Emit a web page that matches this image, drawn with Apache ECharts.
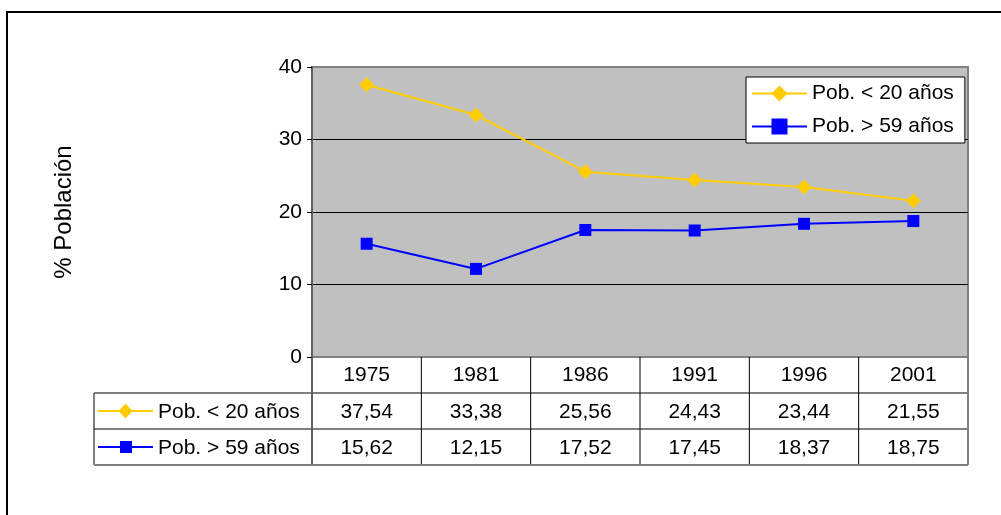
<!DOCTYPE html>
<html>
<head>
<meta charset="utf-8">
<script src="https://cdn.jsdelivr.net/npm/echarts@6/dist/echarts.min.js"></script>
<style>
  html, body { margin: 0; padding: 0; background: #fff; }
  #chart { width: 1001px; height: 515px; }
</style>
</head>
<body>
<div id="chart"></div>
<script>
// datos
const years = ["1975", "1981", "1986", "1991", "1996", "2001"]
const menores20 = [37.54, 33.38, 25.56, 24.43, 23.44, 21.55]
const mayores59 = [15.62, 12.15, 17.52, 17.45, 18.37, 18.75]
const nombres = ["Pob. < 20 años", "Pob. > 59 años"]
const colores = ["#FFCC00", "#0000FF"]
const yTicks = [0, 10, 20, 30, 40]

const FONT = "Liberation Sans, Arial, sans-serif"
const FS = 21
const fmt = v => v.toFixed(2).replace(".", ",")

const chart = echarts.init(document.getElementById("chart"))

const options = {
  animation: false,
  textStyle: { fontFamily: FONT },
  grid: {
    left: 312, right: 33, top: 67, bottom: 158,
    show: true,
    backgroundColor: "#c0c0c0",
    borderColor: "#808080",
    borderWidth: 2
  },
  legend: {
    orient: "vertical",
    left: 746, top: 77,
    backgroundColor: "#fff",
    borderColor: "#000",
    borderWidth: 1,
    padding: [6, 11, 6, 5],
    itemGap: 12,
    itemWidth: 55,
    itemHeight: 20,
    textStyle: { fontSize: FS, color: "#000", fontFamily: FONT },
    data: nombres
  },
  xAxis: {
    type: "category",
    data: years,
    axisLine: { show: false },
    axisTick: { show: false },
    axisLabel: { fontSize: FS, color: "#000", margin: 8, fontFamily: FONT }
  },
  yAxis: {
    type: "value",
    min: yTicks[0], max: yTicks[yTicks.length - 1], interval: 10,
    name: "% Población",
    nameLocation: "middle",
    nameGap: 236,
    nameTextStyle: { fontSize: 24, color: "#000", fontFamily: FONT },
    axisLine: { show: true, lineStyle: { color: "#606060", width: 2 } },
    axisTick: { show: true, length: 5, lineStyle: { color: "#000" } },
    axisLabel: { fontSize: FS, color: "#000", margin: 10, fontFamily: FONT },
    splitLine: { show: true, lineStyle: { color: ["#808080", "#000", "#000", "#000", "#808080"], width: 1 } }
  },
  series: [
    {
      name: nombres[0], type: "line", data: menores20,
      symbol: "diamond", symbolSize: 15,
      itemStyle: { color: colores[0] },
      lineStyle: { color: colores[0], width: 2 }
    },
    {
      name: nombres[1], type: "line", data: mayores59,
      symbol: "rect", symbolSize: 12,
      itemStyle: { color: colores[1] },
      lineStyle: { color: colores[1], width: 2 }
    }
  ]
}
chart.setOption(options)

// tabla de datos debajo del grafico
function buildTable() {
  const c0 = chart.convertToPixel({ xAxisIndex: 0 }, 0)
  const c1 = chart.convertToPixel({ xAxisIndex: 0 }, 1)
  const step = c1 - c0
  const x0 = c0 - step / 2
  const xEnd = x0 + step * years.length
  const y0 = chart.convertToPixel({ yAxisIndex: 0 }, 0)
  const rowH = 36
  const legLeft = 94
  const els = []
  const line = (x1, y1, x2, y2, color, w) => els.push({
    type: "line", shape: { x1, y1, x2, y2 }, style: { stroke: color, lineWidth: w }
  })

  // marco exterior
  els.push({ type: "rect", shape: { x: 7, y: 12, width: 1010, height: 520 }, style: { fill: null, stroke: "#000", lineWidth: 2 } })

  // lineas interiores
  for (let i = 1; i < years.length; i++) line(x0 + step * i, y0, x0 + step * i, y0 + rowH * 3, "#000", 1)
  line(legLeft, y0 + rowH, xEnd, y0 + rowH, "#000", 1)
  line(legLeft, y0 + rowH * 2, xEnd, y0 + rowH * 2, "#000", 1)
  // borde exterior gris
  line(legLeft, y0 + rowH, x0, y0 + rowH, "#808080", 1)
  line(legLeft, y0 + rowH, legLeft, y0 + rowH * 3, "#000", 1)
  line(x0, y0, x0, y0 + rowH * 3, "#606060", 2)
  line(xEnd, y0, xEnd, y0 + rowH * 3, "#808080", 2)
  line(legLeft, y0 + rowH * 3, xEnd, y0 + rowH * 3, "#808080", 2)

  const filas = [menores20, mayores59]
  filas.forEach((vals, r) => {
    const cy = y0 + rowH * (r + 1) + rowH / 2
    vals.forEach((v, i) => {
      els.push({
        type: "text",
        style: { text: fmt(v), x: c0 + step * i, y: cy + 1, align: "center", verticalAlign: "middle", font: FS + "px " + FONT, fill: "#000" }
      })
    })
    // clave de leyenda
    line(legLeft + 4, cy, legLeft + 59, cy, colores[r], 2)
    if (r === 0) {
      els.push({ type: "polygon", shape: { points: [[legLeft + 31.5, cy - 7.5], [legLeft + 38.5, cy], [legLeft + 31.5, cy + 7.5], [legLeft + 24.5, cy]] }, style: { fill: colores[r] } })
    } else {
      els.push({ type: "rect", shape: { x: legLeft + 26, y: cy - 6, width: 12, height: 12 }, style: { fill: colores[r] } })
    }
    els.push({
      type: "text",
      style: { text: nombres[r], x: legLeft + 64, y: cy + 1, align: "left", verticalAlign: "middle", font: FS + "px " + FONT, fill: "#000" }
    })
  })
  chart.setOption({ graphic: { elements: els } })
}
buildTable()
</script>
</body>
</html>
